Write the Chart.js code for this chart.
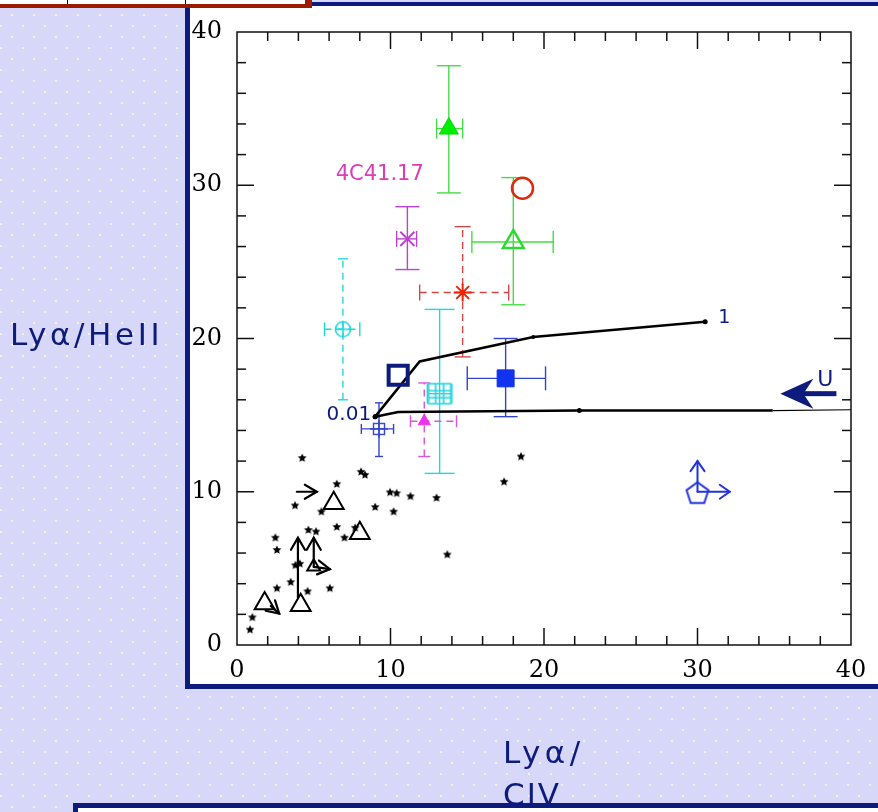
<!DOCTYPE html>
<html>
<head>
<meta charset="utf-8">
<script src="https://cdn.jsdelivr.net/npm/chart.js@4.4.0/dist/chart.umd.min.js"></script>
<style>
  html, body { margin: 0; padding: 0; }
  body {
    width: 878px; height: 812px; overflow: hidden; position: relative;
    background-color: #d6d7f9;
    background-image:
      radial-gradient(circle at center, #f6f4d4 0, #f6f4d4 1px, rgba(0,0,0,0) 1.6px),
      radial-gradient(circle at center, #f6f4d4 0, #f6f4d4 1px, rgba(0,0,0,0) 1.6px);
    background-size: 22px 22px;
    background-position: 1px 4px, 12px 15px;
    font-family: "DejaVu Sans", sans-serif;
  }
  #panel { position: absolute; left: 185px; top: 2px; width: 688px; height: 678px; background: #fff;
    border-left: 5px solid #0d1b7d; border-top: 4px solid #0d1b7d; border-bottom: 5px solid #0d1b7d; }
  #redbox { position: absolute; left: 0; top: 0; width: 305px; height: 4px; background: #fff;
    border-right: 7px solid #9c1a00; border-bottom: 4px solid #9c1a00; }
  .vl { position: absolute; top: 0; width: 1px; height: 4px; background: #000; }
  #bottombox { position: absolute; left: 73px; top: 803px; width: 820px; height: 30px; background: #fff;
    border-top: 5px solid #0d1b7d; border-left: 5px solid #0d1b7d; }
  #c { position: absolute; left: 0; top: 0; }
  .lab { position: absolute; color: #0d1b7d; font-size: 31px; letter-spacing: 3px; white-space: nowrap; }
</style>
</head>
<body>
<div id="panel"></div>
<div id="redbox"></div>
<div class="vl" style="left:67px"></div>
<div class="vl" style="left:185px"></div>
<div id="bottombox"></div>
<canvas id="c" width="878" height="812"></canvas>
<div class="lab" style="left:10px; top:319px; line-height:31px; letter-spacing:3.6px;">Lyα/HeII</div>
<div class="lab" style="left:503px; top:731px; line-height:42px;"><span style="letter-spacing:4.5px">Lyα/</span><br><span style="letter-spacing:2px">CIV</span></div>
<script>
// axis ticks
const xTicks = [0, 10, 20, 30, 40];
const yTicks = [0, 10, 20, 30, 40];

// black points (small stars)
const starX = [4.25, 8.08, 8.34, 6.5, 9.97, 10.4, 11.3, 13.0, 3.78, 9.0, 10.2, 5.5, 4.65, 5.15, 6.5,
               7.0, 7.7, 2.5, 2.6, 3.8, 4.1, 3.5, 2.6, 4.6, 6.05, 13.7, 1.0, 0.85, 18.5, 17.4];
const starY = [12.2, 11.3, 11.1, 10.5, 9.96, 9.9, 9.7, 9.6, 9.1, 9.0, 8.7, 8.7, 7.5, 7.4, 7.7,
               7.0, 7.65, 7.0, 6.2, 5.2, 5.3, 4.1, 3.7, 3.5, 3.7, 5.9, 1.8, 1.0, 12.3, 10.65];

// black open triangles
const triX = [6.3, 8.0, 1.8, 4.15];
const triY = [9.25, 7.3, 2.7, 2.6];
const smallTriX = [5.0];
const smallTriY = [5.1];

// limit arrows (from -> to)
const arrowX0 = [3.9, 3.97, 5.0, 5.0, 2.2];
const arrowY0 = [10.0, 3.1, 5.1, 5.1, 2.55];
const arrowX1 = [5.2, 3.97, 5.0, 6.05, 2.75];
const arrowY1 = [10.0, 7.0, 7.0, 4.95, 2.05];
const pentArrowX1 = [30.0, 32.1];
const pentArrowY1 = [12.0, 10.0];

// individual sources with error bars
const srcNames = ['greenFilled', 'greenOpen', 'redCircle', '4C41.17', 'redStar', 'cyanCircle',
                  'cyanSquare', 'magentaTri', 'navySquare', 'blueSquare', 'blueSmall', 'pentagon'];
const srcX   = [13.8, 18.0, 18.6, 11.1, 14.7, 6.9, 13.2, 12.2, 10.5, 17.5, 9.25, 30.0];
const srcY   = [33.7, 26.3, 29.8, 26.5, 23.0, 20.6, 16.4, 14.6, 17.6, 17.4, 14.1, 10.0];
const srcXLo = [13.0, 15.3, null, 10.4, 11.9, 5.7, 12.4, 11.3, null, 15.0, 8.1, null];
const srcXHi = [14.7, 20.6, null, 11.7, 17.7, 8.0, 14.0, 14.3, null, 20.1, 10.2, null];
const srcYLo = [29.5, 22.2, null, 24.5, 18.8, 16.0, 11.2, 12.3, null, 14.9, 12.3, null];
const srcYHi = [37.8, 30.5, null, 28.6, 27.3, 25.2, 21.9, 17.1, null, 20.0, 15.8, null];

// photoionisation model tracks
const modelUpX = [9.0, 11.9, 19.3, 30.5];
const modelUpY = [14.9, 18.5, 20.1, 21.1];
const modelLoX = [9.0, 10.5, 22.3, 34.9];
const modelLoY = [14.9, 15.2, 15.3, 15.3];
const modelTailX = [34.9, 40];
const modelTailY = [15.3, 15.35];

const NAVY = '#0d1b7d';

function marker(w, h, draw) {
  const c = document.createElement('canvas');
  c.width = w; c.height = h;
  draw(c.getContext('2d'), w / 2, h / 2);
  return c;
}
const starMark = marker(10, 10, (g, cx, cy) => {
  g.fillStyle = '#000';
  g.beginPath();
  for (let i = 0; i < 10; i++) {
    const r = i % 2 ? 2.2 : 4.6, a = -Math.PI / 2 + i * Math.PI / 5;
    g.lineTo(cx + r * Math.cos(a), cy + r * Math.sin(a));
  }
  g.closePath(); g.fill();
});
const circlePlus = marker(22, 22, (g, cx, cy) => {
  g.strokeStyle = '#22d8e0'; g.lineWidth = 1.6;
  g.beginPath(); g.arc(cx, cy, 7.5, 0, Math.PI * 2); g.stroke();
  g.beginPath(); g.moveTo(cx - 7.5, cy); g.lineTo(cx + 7.5, cy); g.moveTo(cx, cy - 7.5); g.lineTo(cx, cy + 7.5); g.stroke();
});
const squareGrid = marker(26, 24, (g, cx, cy) => {
  g.strokeStyle = '#22d8e0'; g.lineWidth = 1.6;
  g.strokeRect(cx - 11, cy - 10, 22, 20);
  g.beginPath();
  g.moveTo(cx - 4, cy - 10); g.lineTo(cx - 4, cy + 10);
  g.moveTo(cx + 4, cy - 10); g.lineTo(cx + 4, cy + 10);
  g.moveTo(cx - 11, cy - 3); g.lineTo(cx + 11, cy - 3);
  g.moveTo(cx - 11, cy + 4); g.lineTo(cx + 11, cy + 4);
  g.stroke();
});
const smallGrid = marker(22, 22, (g, cx, cy) => {
  g.strokeStyle = '#3344cc'; g.lineWidth = 1.4;
  g.strokeRect(cx - 5.5, cy - 5.5, 11, 11);
  g.beginPath(); g.moveTo(cx - 9, cy); g.lineTo(cx + 9, cy); g.moveTo(cx, cy - 9); g.lineTo(cx, cy + 9); g.stroke();
});
const pentagon = marker(30, 30, (g, cx, cy) => {
  g.strokeStyle = '#2233dd'; g.lineWidth = 2;
  g.beginPath();
  for (let i = 0; i < 5; i++) {
    const a = -Math.PI / 2 + i * 2 * Math.PI / 5;
    g.lineTo(cx + 11.5 * Math.cos(a), cy + 2 + 11.5 * Math.sin(a));
  }
  g.closePath(); g.stroke();
});

const srcStyle = [
  { pointStyle: 'triangle', radius: 11, backgroundColor: '#00ee00', borderColor: '#00dd00', borderWidth: 1,
    err: { color: '#44dd44', capX: 12, capY: 10 } },
  { pointStyle: 'triangle', radius: 12, backgroundColor: 'rgba(0,0,0,0)', borderColor: '#2ed82e', borderWidth: 2.5,
    err: { color: '#44dd44', capX: 12, capY: 11 } },
  { pointStyle: 'circle', radius: 10.5, backgroundColor: 'rgba(0,0,0,0)', borderColor: '#dd2a10', borderWidth: 2.5 },
  { pointStyle: 'crossRot', radius: 10, borderColor: '#bb44cc', borderWidth: 2,
    err: { color: '#bb44cc', capX: 12, capY: 8 } },
  { pointStyle: 'star', radius: 9, borderColor: '#ee2200', borderWidth: 2,
    err: { color: '#d04848', capX: 8, capY: 8, dash: [7, 5] } },
  { pointStyle: circlePlus,
    err: { color: '#22d8e0', capX: 5, capY: 7, dash: [7, 5] } },
  { pointStyle: squareGrid,
    err: { color: '#22d8e0', capX: 15, capY: 10 } },
  { pointStyle: 'triangle', radius: 7, backgroundColor: '#ee33ee', borderColor: '#ee33ee', borderWidth: 1,
    err: { color: '#dd55dd', capX: 6, capY: 6, dash: [7, 5] } },
  { pointStyle: 'rect', radius: 13.5, backgroundColor: 'rgba(0,0,0,0)', borderColor: NAVY, borderWidth: 4 },
  { pointStyle: 'rect', radius: 12, backgroundColor: '#1133ee', borderColor: '#1133ee', borderWidth: 1,
    err: { color: '#3344cc', capX: 12, capY: 12 } },
  { pointStyle: smallGrid,
    err: { color: '#3344cc', capX: 4, capY: 5 } },
  { pointStyle: pentagon }
];

const pts = (xs, ys) => xs.map((x, i) => ({ x: x, y: ys[i] }));

const datasets = srcNames.map((name, i) => Object.assign({
  label: name,
  data: [{ x: srcX[i], y: srcY[i], xLo: srcXLo[i], xHi: srcXHi[i], yLo: srcYLo[i], yHi: srcYHi[i] }]
}, srcStyle[i]));

datasets.push(
  { label: 'stars', data: pts(starX, starY), pointStyle: starMark },
  { label: 'triangles', data: pts(triX, triY), pointStyle: 'triangle', radius: 11.5,
    backgroundColor: 'rgba(0,0,0,0)', borderColor: '#000', borderWidth: 2 },
  { label: 'smallTri', data: pts(smallTriX, smallTriY), pointStyle: 'triangle', radius: 7.5,
    backgroundColor: 'rgba(0,0,0,0)', borderColor: '#000', borderWidth: 2 },
  { label: 'modelUp', data: pts(modelUpX, modelUpY), showLine: true, borderColor: '#000', borderWidth: 2.5,
    pointRadius: [2.5, 0, 2, 2.5], pointBackgroundColor: '#000', pointBorderWidth: 0 },
  { label: 'modelLo', data: pts(modelLoX, modelLoY), showLine: true, borderColor: '#000', borderWidth: 2.5,
    pointRadius: [2.5, 0, 2.5, 0], pointBackgroundColor: '#000', pointBorderWidth: 0 },
  { label: 'modelTail', data: pts(modelTailX, modelTailY), showLine: true, borderColor: '#000', borderWidth: 1.2,
    pointRadius: 0 }
);

function seg(ctx, x0, y0, x1, y1) { ctx.beginPath(); ctx.moveTo(x0, y0); ctx.lineTo(x1, y1); ctx.stroke(); }

const framePlugin = {
  id: 'frame',
  beforeDatasetsDraw(chart) {
    const { ctx, chartArea: a, scales: { x, y } } = chart;
    ctx.save();
    ctx.strokeStyle = '#111'; ctx.lineWidth = 1.5;
    ctx.strokeRect(a.left, a.top, a.right - a.left, a.bottom - a.top);
    for (let v = 2; v < 40; v += 2) {
      const len = v % 10 === 0 ? 17 : 9;
      const px = x.getPixelForValue(v), py = y.getPixelForValue(v);
      seg(ctx, px, a.bottom, px, a.bottom - len);
      seg(ctx, px, a.top, px, a.top + len);
      seg(ctx, a.left, py, a.left + len, py);
      seg(ctx, a.right, py, a.right - len, py);
    }
    ctx.restore();
  }
};

const errorPlugin = {
  id: 'errorBars',
  beforeDatasetsDraw(chart) {
    const { ctx, scales: { x, y } } = chart;
    chart.data.datasets.forEach(ds => {
      const e = ds.err;
      if (!e) return;
      ds.data.forEach(p => {
        ctx.save();
        ctx.strokeStyle = e.color; ctx.lineWidth = 1.4; ctx.setLineDash(e.dash || []);
        const cx = x.getPixelForValue(p.x), cy = y.getPixelForValue(p.y);
        if (p.yLo != null) {
          const a = y.getPixelForValue(p.yLo), b = y.getPixelForValue(p.yHi);
          seg(ctx, cx, a, cx, b);
          ctx.setLineDash([]);
          seg(ctx, cx - e.capX, a, cx + e.capX, a);
          seg(ctx, cx - e.capX, b, cx + e.capX, b);
          ctx.setLineDash(e.dash || []);
        }
        if (p.xLo != null) {
          const a = x.getPixelForValue(p.xLo), b = x.getPixelForValue(p.xHi);
          seg(ctx, a, cy, b, cy);
          ctx.setLineDash([]);
          seg(ctx, a, cy - e.capY, a, cy + e.capY);
          seg(ctx, b, cy - e.capY, b, cy + e.capY);
        }
        ctx.restore();
      });
    });
  }
};

function arrow(ctx, x0, y0, x1, y1, head, half) {
  seg(ctx, x0, y0, x1, y1);
  const ang = Math.atan2(y1 - y0, x1 - x0);
  ctx.beginPath();
  ctx.moveTo(x1 - head * Math.cos(ang) + half * Math.sin(ang), y1 - head * Math.sin(ang) - half * Math.cos(ang));
  ctx.lineTo(x1, y1);
  ctx.lineTo(x1 - head * Math.cos(ang) - half * Math.sin(ang), y1 - head * Math.sin(ang) + half * Math.cos(ang));
  ctx.stroke();
}

const limitPlugin = {
  id: 'limits',
  afterDatasetsDraw(chart) {
    const { ctx, scales: { x, y } } = chart;
    ctx.save();
    ctx.lineCap = 'round';
    ctx.strokeStyle = '#000'; ctx.lineWidth = 2.2;
    arrowX0.forEach((v, i) => arrow(ctx, x.getPixelForValue(v), y.getPixelForValue(arrowY0[i]),
      x.getPixelForValue(arrowX1[i]), y.getPixelForValue(arrowY1[i]), 12, 7));
    const pi = srcNames.indexOf('pentagon');
    ctx.strokeStyle = '#2233dd'; ctx.lineWidth = 2;
    pentArrowX1.forEach((v, i) => arrow(ctx, x.getPixelForValue(srcX[pi]), y.getPixelForValue(srcY[pi]),
      x.getPixelForValue(v), y.getPixelForValue(pentArrowY1[i]), 10, 7));
    ctx.restore();
  }
};

const notePlugin = {
  id: 'notes',
  afterDraw(chart) {
    const { ctx, scales: { x, y } } = chart;
    ctx.save();
    ctx.textBaseline = 'middle';
    ctx.font = '20px "DejaVu Sans"';
    ctx.fillStyle = NAVY;
    ctx.textAlign = 'right';
    ctx.fillText('0.01', x.getPixelForValue(modelLoX[0]) - 4, y.getPixelForValue(modelLoY[0]) - 2);
    ctx.textAlign = 'left';
    ctx.font = '19px "DejaVu Sans"';
    ctx.fillText('1', x.getPixelForValue(modelUpX[3]) + 13, y.getPixelForValue(modelUpY[3]) - 4);
    ctx.font = '21px "DejaVu Sans"';
    ctx.fillStyle = '#dd3cb4';
    ctx.textAlign = 'center';
    ctx.fillText('4C41.17', x.getPixelForValue(9.3), y.getPixelForValue(30.7));
    // ionisation parameter arrow
    const tx = x.getPixelForValue(35.4), ty = y.getPixelForValue(16.4);
    ctx.fillStyle = NAVY;
    ctx.beginPath();
    ctx.moveTo(tx, ty); ctx.lineTo(tx + 33, ty - 15); ctx.lineTo(tx + 23, ty); ctx.lineTo(tx + 33, ty + 15);
    ctx.closePath(); ctx.fill();
    ctx.fillRect(tx + 20, ty - 2.5, 36, 5);
    ctx.font = '22px "DejaVu Sans"';
    ctx.fillText('U', tx + 45, ty - 13);
    ctx.restore();
  }
};

const tickFont = { family: 'DejaVu Serif', size: 24 };

new Chart(document.getElementById('c'), {
  type: 'scatter',
  data: { datasets: datasets },
  options: {
    responsive: false,
    animation: false,
    devicePixelRatio: 1,
    layout: { padding: { top: 32, right: 27, left: 0, bottom: 0 } },
    plugins: { legend: { display: false }, tooltip: { enabled: false } },
    elements: { line: { tension: 0 } },
    scales: {
      x: {
        type: 'linear', min: 0, max: 40,
        afterBuildTicks: s => { s.ticks = xTicks.map(v => ({ value: v })); },
        afterFit: s => { s.height = 167; },
        grid: { display: false }, border: { display: false },
        ticks: { font: tickFont, color: '#000', padding: 3, maxRotation: 0, autoSkip: false }
      },
      y: {
        type: 'linear', min: 0, max: 40,
        afterBuildTicks: s => { s.ticks = yTicks.map(v => ({ value: v })); },
        afterFit: s => { s.width = 237; },
        grid: { display: false }, border: { display: false },
        ticks: { font: tickFont, color: '#000', padding: 7, autoSkip: false }
      }
    }
  },
  plugins: [framePlugin, errorPlugin, limitPlugin, notePlugin]
});
</script>
</body>
</html>
